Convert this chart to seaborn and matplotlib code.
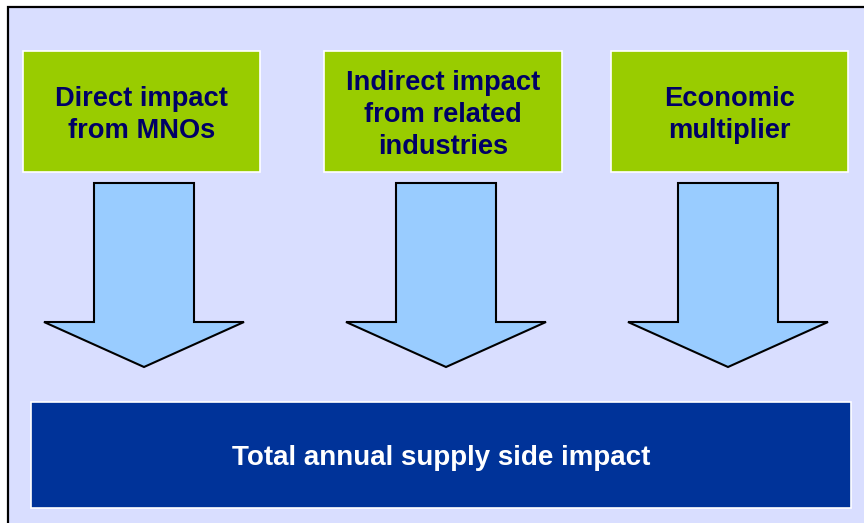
import matplotlib.pyplot as plt
import seaborn as sns
from matplotlib.patches import Rectangle, Polygon

# diagram content
source_labels = ['Direct impact\nfrom MNOs', 'Indirect impact\nfrom related\nindustries', 'Economic\nmultiplier']
total_label = 'Total annual supply side impact'

# layout (pixels): box x-extents and arrow centres
box_left = [23, 324, 611]
box_right = [260, 562, 848]
arrow_cx = [144, 446, 728]

sns.set_theme(style='white')
plt.rcParams['font.family'] = ['Liberation Sans', 'DejaVu Sans']

fig = plt.figure(figsize=(8.64, 5.23), dpi=100)
ax = fig.add_axes([0, 0, 1, 1])
ax.set_xlim(0, 864)
ax.set_ylim(523, 0)
ax.axis('off')

# outer panel
ax.add_patch(Rectangle((8, 7), 870, 530, facecolor='#D9DEFF', edgecolor='black', lw=1.6))

for label, x0, x1, cx in zip(source_labels, box_left, box_right, arrow_cx):
    ax.add_patch(Rectangle((x0, 51), x1 - x0, 121, facecolor='#99CC00',
                           edgecolor='white', lw=1.2))
    ax.text((x0 + x1) / 2, 115.5, label, ha='center', va='center', color='#000066',
            fontsize=19.6, fontweight='bold', linespacing=1.3)

    # down arrow under each box
    shaft, head = 50, 100
    pts = [(cx - shaft, 183), (cx + shaft, 183), (cx + shaft, 322), (cx + head, 322),
           (cx, 367), (cx - head, 322), (cx - shaft, 322)]
    ax.add_patch(Polygon(pts, closed=True, facecolor='#99CCFF', edgecolor='black',
                         lw=1.5, joinstyle='miter'))

# total box
ax.add_patch(Rectangle((31, 402), 820, 106, facecolor='#003399', edgecolor='white', lw=1.2))
ax.text(441, 458, total_label, ha='center', va='center', color='white',
        fontsize=20, fontweight='bold')

fig.savefig('out.png', dpi=100)
